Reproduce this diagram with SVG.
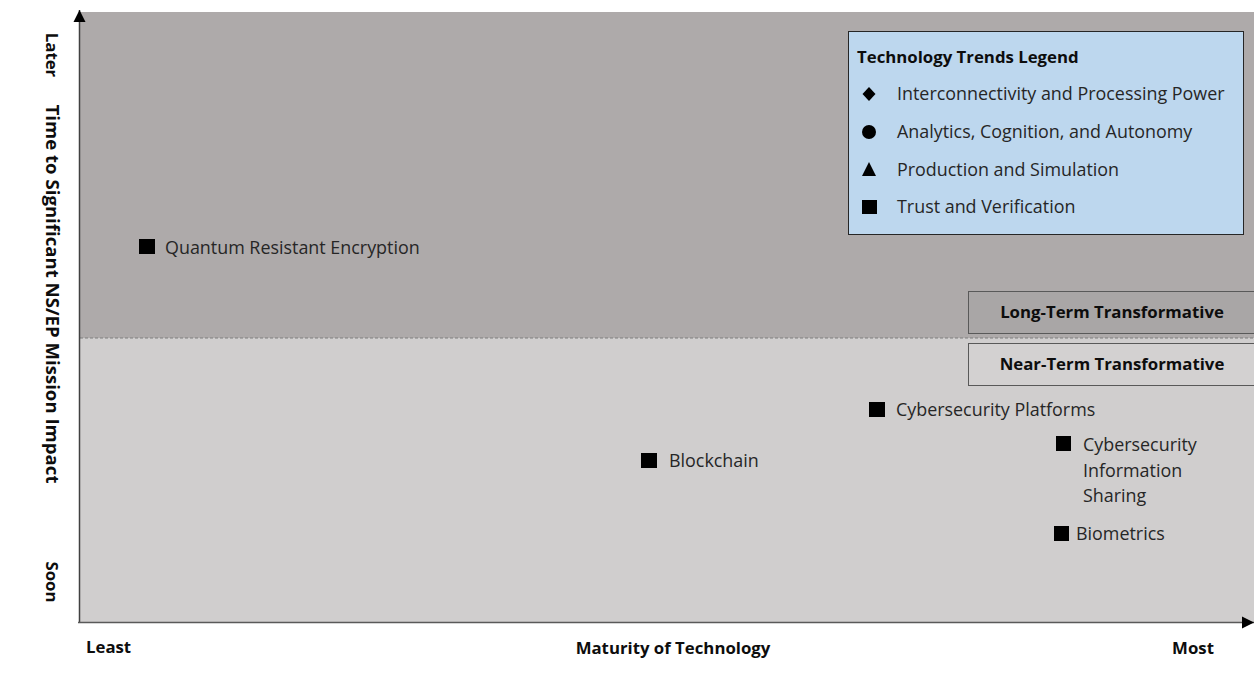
<svg xmlns="http://www.w3.org/2000/svg" width="1254" height="685" viewBox="0 0 1254 685">
<style>
.t{font-family:"Open Sans","Noto Sans",sans-serif;font-size:17.9px;fill:#262626}
.b{font-family:"Open Sans","Noto Sans",sans-serif;font-size:16.8px;font-weight:bold;fill:#0d0d0d}
.y{font-size:18.6px}
.m{fill:#000}
</style>
<defs>
<marker id="ah" viewBox="0 0 10 10" refX="10" refY="5" markerWidth="12" markerHeight="13" markerUnits="userSpaceOnUse" orient="auto"><path d="M0,0 L10,5 L0,10 z" fill="#000"/></marker>
</defs>
<g id="background">
<rect x="80" y="12" width="1174" height="326" fill="#AEAAAA"/>
<rect x="80" y="338" width="1174" height="284" fill="#D0CECE"/>
<line x1="80" y1="338" x2="1254" y2="338" stroke="#7f7f7f" stroke-width="1" stroke-dasharray="3,2"/>
</g>
<g id="axes">
<line x1="79.5" y1="622" x2="79.5" y2="10" stroke="#404040" stroke-width="1.5" marker-end="url(#ah)"/>
<line x1="78" y1="622.5" x2="1254" y2="622.5" stroke="#595959" stroke-width="1.5" marker-end="url(#ah)"/>
</g>
<g id="axis-labels">
<text class="b" x="86" y="653">Least</text>
<text class="b" x="673" y="654" text-anchor="middle">Maturity of Technology</text>
<text class="b" x="1193" y="654" text-anchor="middle">Most</text>
<text class="b" transform="translate(46,55) rotate(90)" text-anchor="middle">Later</text>
<text class="b y" transform="translate(46,294) rotate(90)" text-anchor="middle">Time to Significant NS/EP Mission Impact</text>
<text class="b" transform="translate(46,582) rotate(90)" text-anchor="middle">Soon</text>
</g>
<g id="legend">
<rect x="848.5" y="31.5" width="395" height="203" fill="#BDD7EE" stroke="#262626" stroke-width="1"/>
<text class="b" x="857" y="63">Technology Trends Legend</text>
<path class="m" d="M869,87 L875.5,94 L869,101 L862.5,94 z"/>
<text class="t" x="897" y="100">Interconnectivity and Processing Power</text>
<circle class="m" cx="869" cy="132" r="7"/>
<text class="t" x="897" y="138">Analytics, Cognition, and Autonomy</text>
<path class="m" d="M869,162 L876,176 L862,176 z"/>
<text class="t" x="897" y="176">Production and Simulation</text>
<rect class="m" x="862" y="200" width="15" height="14"/>
<text class="t" x="897" y="213">Trust and Verification</text>
</g>
<g id="long-term">
<rect x="968.5" y="291.5" width="290" height="42" fill="#A9A6A6" stroke="#595959" stroke-width="1"/>
<text class="b" x="1112" y="318" text-anchor="middle">Long-Term Transformative</text>
</g>
<g id="near-term">
<rect x="968.5" y="343.5" width="290" height="42" fill="#D3D1D1" stroke="#595959" stroke-width="1"/>
<text class="b" x="1112" y="370" text-anchor="middle">Near-Term Transformative</text>
</g>
<g id="quantum">
<rect class="m" x="139" y="239" width="16" height="15"/>
<text class="t" x="165" y="254">Quantum Resistant Encryption</text>
</g>
<g id="cyber-platforms">
<rect class="m" x="869" y="402" width="16" height="15"/>
<text class="t" x="896" y="416">Cybersecurity Platforms</text>
</g>
<g id="blockchain">
<rect class="m" x="641" y="453" width="16" height="15"/>
<text class="t" x="669" y="467">Blockchain</text>
</g>
<g id="cyber-sharing">
<rect class="m" x="1056" y="436" width="15" height="15"/>
<text class="t" x="1083" y="451">Cybersecurity</text>
<text class="t" x="1083" y="477">Information</text>
<text class="t" x="1083" y="502">Sharing</text>
</g>
<g id="biometrics">
<rect class="m" x="1054" y="526" width="15" height="15"/>
<text class="t" x="1076" y="540">Biometrics</text>
</g>
</svg>
